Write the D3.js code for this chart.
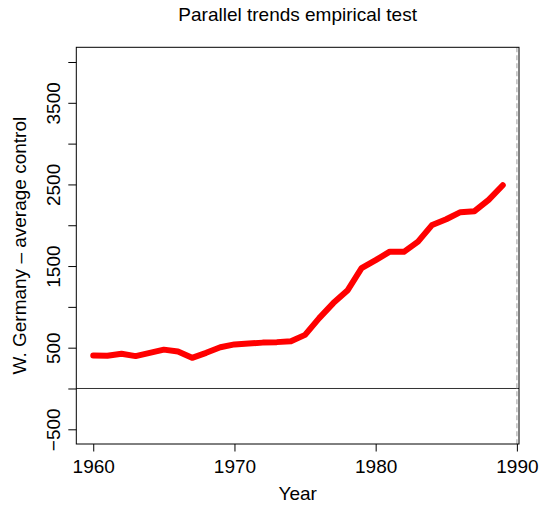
<!DOCTYPE html>
<html>
<head>
<meta charset="utf-8">
<script src="https://cdn.jsdelivr.net/npm/d3@7"></script>
<style>
  body { margin: 0; background: #fff; }
  text { font-family: "Liberation Sans", Arial, sans-serif; fill: #000; }
</style>
</head>
<body>
<div id="chart"></div>
<script>
// data
const years = d3.range(1960, 1990);
const gap = [404, 400, 425, 397, 437, 476, 453, 376, 437, 505, 540,
  551, 562, 568, 580, 657, 862, 1046, 1200, 1474, 1572,
  1676, 1674, 1800, 2004, 2074, 2160, 2172, 2311, 2490];
const xTicks = [1960, 1970, 1980, 1990];
const yTicks = [-500, 0, 500, 1000, 1500, 2000, 2500, 3000, 3500, 4000];
const yLabelled = [-500, 500, 1500, 2500, 3500];
const treatYear = 1990;

const width = 540, height = 508;
const box = { left: 76.3, right: 519, top: 47.3, bottom: 444 };

const svg = d3.select("#chart").append("svg")
  .attr("width", width)
  .attr("height", height);

const x = d3.scaleLinear().domain([1958.8, 1990.15]).range([box.left, box.right]);
const y = d3.scaleLinear().domain([-680, 4180]).range([box.bottom, box.top]);

// zero line
svg.append("line")
  .attr("x1", box.left).attr("x2", box.right)
  .attr("y1", y(0)).attr("y2", y(0))
  .attr("stroke", "#333").attr("stroke-width", 1);

// treatment year
svg.append("line")
  .attr("x1", x(treatYear)).attr("x2", x(treatYear))
  .attr("y1", box.top).attr("y2", box.bottom)
  .attr("stroke", "#bebebe").attr("stroke-width", 1.5)
  .attr("stroke-dasharray", "5,3");

// the series
const line = d3.line().x((d, i) => x(years[i])).y(d => y(d));
svg.append("path")
  .datum(gap)
  .attr("d", line)
  .attr("fill", "none")
  .attr("stroke", "#ff0000")
  .attr("stroke-width", 6)
  .attr("stroke-linejoin", "round")
  .attr("stroke-linecap", "round");

// box
svg.append("rect")
  .attr("x", box.left).attr("y", box.top)
  .attr("width", box.right - box.left).attr("height", box.bottom - box.top)
  .attr("fill", "none").attr("stroke", "#000").attr("stroke-width", 1);

// x axis
const xAxis = svg.append("g")
  .attr("transform", `translate(0,${box.bottom})`)
  .call(d3.axisBottom(x).tickValues(xTicks).tickSize(7.5).tickPadding(0).tickFormat(d3.format("d")));
xAxis.select(".domain").remove();
xAxis.selectAll("line").attr("stroke", "#000");
xAxis.selectAll("text")
  .attr("font-size", 19).attr("font-family", "Liberation Sans, Arial, sans-serif")
  .attr("dy", null).attr("y", 29);

// y axis
const yAxis = svg.append("g")
  .attr("transform", `translate(${box.left},0)`)
  .call(d3.axisLeft(y).tickValues(yTicks).tickSize(8)
    .tickFormat(d => yLabelled.includes(d) ? String(d).replace("-", "\u2212") : ""));
yAxis.select(".domain").remove();
yAxis.selectAll("line").attr("stroke", "#000");
yAxis.selectAll("text")
  .attr("font-size", 19).attr("font-family", "Liberation Sans, Arial, sans-serif")
  .attr("x", null).attr("dy", null)
  .attr("text-anchor", "middle")
  .attr("transform", "translate(-16.3,0) rotate(-90)");

// titles
svg.append("text")
  .attr("x", (box.left + box.right) / 2).attr("y", 21)
  .attr("text-anchor", "middle").attr("font-size", 19)
  .text("Parallel trends empirical test");

svg.append("text")
  .attr("x", (box.left + box.right) / 2).attr("y", 500)
  .attr("text-anchor", "middle").attr("font-size", 19)
  .text("Year");

svg.append("text")
  .attr("transform", `translate(25.5,${(box.top + box.bottom) / 2}) rotate(-90)`)
  .attr("text-anchor", "middle").attr("font-size", 19)
  .text("W. Germany \u2013 average control");
</script>
</body>
</html>
